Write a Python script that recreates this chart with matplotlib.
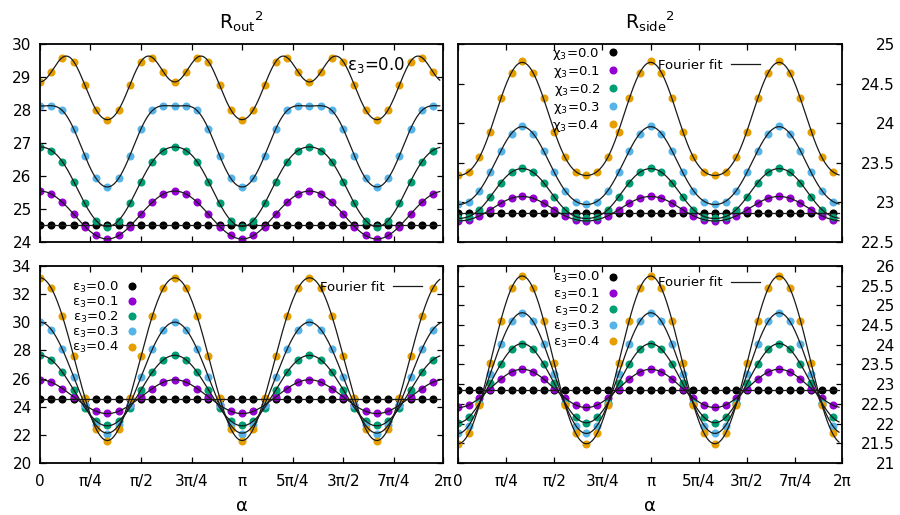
import numpy as np
import matplotlib.pyplot as plt

# 36 sample angles, 0 .. 35*pi/18
alpha = np.arange(36) * np.pi / 18
labels = ['0.0', '0.1', '0.2', '0.3', '0.4']
colors = ['#000000', '#9400d3', '#009e73', '#56b4e9', '#e69f00']

xtick_vals = np.arange(9) * np.pi / 4
xtick_text = ['0', 'π/4', 'π/2', '3π/4', 'π', '5π/4', '3π/2', '7π/4', '2π']

# R_out^2, eps3 = 0.0 (top left), one list per chi3
rout_a_00 = [24.52] * 36
rout_a_01 = [25.54, 25.46, 25.20, 24.85, 24.47, 24.20, 24.09, 24.20, 24.47, 24.85, 25.20, 25.46,
             25.54, 25.46, 25.20, 24.85, 24.47, 24.20, 24.09, 24.20, 24.47, 24.85, 25.20, 25.46,
             25.54, 25.46, 25.20, 24.85, 24.47, 24.20, 24.09, 24.20, 24.47, 24.85, 25.20, 25.46]
rout_a_02 = [26.89, 26.77, 26.44, 25.83, 25.17, 24.65, 24.47, 24.65, 25.17, 25.83, 26.44, 26.77,
             26.89, 26.77, 26.44, 25.83, 25.17, 24.65, 24.47, 24.65, 25.17, 25.83, 26.44, 26.77,
             26.89, 26.77, 26.44, 25.83, 25.17, 24.65, 24.47, 24.65, 25.17, 25.83, 26.44, 26.77]
rout_a_03 = [28.12, 28.13, 27.99, 27.42, 26.62, 25.93, 25.66, 25.93, 26.62, 27.42, 27.99, 28.13,
             28.12, 28.13, 27.99, 27.42, 26.62, 25.93, 25.66, 25.93, 26.62, 27.42, 27.99, 28.13,
             28.12, 28.13, 27.99, 27.42, 26.62, 25.93, 25.66, 25.93, 26.62, 27.42, 27.99, 28.13]
rout_a_04 = [28.84, 29.16, 29.59, 29.47, 28.75, 28.01, 27.70, 28.01, 28.75, 29.47, 29.59, 29.16,
             28.84, 29.16, 29.59, 29.47, 28.75, 28.01, 27.70, 28.01, 28.75, 29.47, 29.59, 29.16,
             28.84, 29.16, 29.59, 29.47, 28.75, 28.01, 27.70, 28.01, 28.75, 29.47, 29.59, 29.16]

# R_side^2, chi3 series (top right)
rside_a_00 = [22.87] * 36
rside_a_01 = [22.77, 22.78, 22.83, 22.91, 22.99, 23.05, 23.08, 23.05, 22.99, 22.91, 22.83, 22.78,
              22.77, 22.78, 22.83, 22.91, 22.99, 23.05, 23.08, 23.05, 22.99, 22.91, 22.83, 22.78,
              22.77, 22.78, 22.83, 22.91, 22.99, 23.05, 23.08, 23.05, 22.99, 22.91, 22.83, 22.78]
rside_a_02 = [22.80, 22.82, 22.91, 23.07, 23.25, 23.38, 23.43, 23.38, 23.25, 23.07, 22.91, 22.82,
              22.80, 22.82, 22.91, 23.07, 23.25, 23.38, 23.43, 23.38, 23.25, 23.07, 22.91, 22.82,
              22.80, 22.82, 22.91, 23.07, 23.25, 23.38, 23.43, 23.38, 23.25, 23.07, 22.91, 22.82]
rside_a_03 = [22.98, 23.01, 23.15, 23.38, 23.65, 23.87, 23.96, 23.87, 23.65, 23.38, 23.15, 23.01,
              22.98, 23.01, 23.15, 23.38, 23.65, 23.87, 23.96, 23.87, 23.65, 23.38, 23.15, 23.01,
              22.98, 23.01, 23.15, 23.38, 23.65, 23.87, 23.96, 23.87, 23.65, 23.38, 23.15, 23.01]
rside_a_04 = [23.35, 23.38, 23.58, 23.89, 24.32, 24.63, 24.78, 24.63, 24.32, 23.89, 23.58, 23.38,
              23.35, 23.38, 23.58, 23.89, 24.32, 24.63, 24.78, 24.63, 24.32, 23.89, 23.58, 23.38,
              23.35, 23.38, 23.58, 23.89, 24.32, 24.63, 24.78, 24.63, 24.32, 23.89, 23.58, 23.38]

# R_out^2, eps3 series (bottom left)
rout_b_00 = [24.56] * 36
rout_b_01 = [25.91, 25.75, 25.28, 24.70, 24.12, 23.66, 23.53, 23.66, 24.12, 24.70, 25.28, 25.75,
             25.91, 25.75, 25.28, 24.70, 24.12, 23.66, 23.53, 23.66, 24.12, 24.70, 25.28, 25.75,
             25.91, 25.75, 25.28, 24.70, 24.12, 23.66, 23.53, 23.66, 24.12, 24.70, 25.28, 25.75]
rout_b_02 = [27.70, 27.30, 26.45, 25.22, 23.92, 22.96, 22.68, 22.96, 23.92, 25.22, 26.45, 27.30,
             27.70, 27.30, 26.45, 25.22, 23.92, 22.96, 22.68, 22.96, 23.92, 25.22, 26.45, 27.30,
             27.70, 27.30, 26.45, 25.22, 23.92, 22.96, 22.68, 22.96, 23.92, 25.22, 26.45, 27.30]
rout_b_03 = [30.01, 29.48, 28.10, 26.10, 24.15, 22.70, 22.08, 22.70, 24.15, 26.10, 28.10, 29.48,
             30.01, 29.48, 28.10, 26.10, 24.15, 22.70, 22.08, 22.70, 24.15, 26.10, 28.10, 29.48,
             30.01, 29.48, 28.10, 26.10, 24.15, 22.70, 22.08, 22.70, 24.15, 26.10, 28.10, 29.48]
rout_b_04 = [33.17, 32.43, 30.44, 27.59, 24.65, 22.44, 21.58, 22.44, 24.65, 27.59, 30.44, 32.43,
             33.17, 32.43, 30.44, 27.59, 24.65, 22.44, 21.58, 22.44, 24.65, 27.59, 30.44, 32.43,
             33.17, 32.43, 30.44, 27.59, 24.65, 22.44, 21.58, 22.44, 24.65, 27.59, 30.44, 32.43]

# R_side^2, eps3 series (bottom right)
rside_b_00 = [22.86] * 36
rside_b_01 = [22.41, 22.47, 22.65, 22.89, 23.13, 23.31, 23.38, 23.31, 23.13, 22.89, 22.65, 22.47,
              22.41, 22.47, 22.65, 22.89, 23.13, 23.31, 23.38, 23.31, 23.13, 22.89, 22.65, 22.47,
              22.41, 22.47, 22.65, 22.89, 23.13, 23.31, 23.38, 23.31, 23.13, 22.89, 22.65, 22.47]
rside_b_02 = [22.02, 22.16, 22.52, 23.02, 23.51, 23.89, 24.03, 23.89, 23.51, 23.02, 22.52, 22.16,
              22.02, 22.16, 22.52, 23.02, 23.51, 23.89, 24.03, 23.89, 23.51, 23.02, 22.52, 22.16,
              22.02, 22.16, 22.52, 23.02, 23.51, 23.89, 24.03, 23.89, 23.51, 23.02, 22.52, 22.16]
rside_b_03 = [21.75, 21.95, 22.50, 23.25, 24.02, 24.60, 24.81, 24.60, 24.02, 23.25, 22.50, 21.95,
              21.75, 21.95, 22.50, 23.25, 24.02, 24.60, 24.81, 24.60, 24.02, 23.25, 22.50, 21.95,
              21.75, 21.95, 22.50, 23.25, 24.02, 24.60, 24.81, 24.60, 24.02, 23.25, 22.50, 21.95]
rside_b_04 = [21.48, 21.76, 22.47, 23.54, 24.61, 25.44, 25.75, 25.44, 24.61, 23.54, 22.47, 21.76,
              21.48, 21.76, 22.47, 23.54, 24.61, 25.44, 25.75, 25.44, 24.61, 23.54, 22.47, 21.76,
              21.48, 21.76, 22.47, 23.54, 24.61, 25.44, 25.75, 25.44, 24.61, 23.54, 22.47, 21.76]


def fourier_fit(x, y, xs, harm=(3, 6, 9)):
    def design(t):
        cols = [np.ones_like(t)]
        for h in harm:
            cols += [np.cos(h * t), np.sin(h * t)]
        return np.column_stack(cols)
    coef, *_ = np.linalg.lstsq(design(x), np.asarray(y), rcond=None)
    return design(xs) @ coef


def panel(ax, series, ylim, yticks, ylabels, right=False, bottom=False):
    # fit curve drawn a little past the last sample, as in the original
    step = alpha[1] - alpha[0]
    grid = np.linspace(0, alpha[-1] + 0.6 * step, 600)
    hs = []
    for y, c in zip(series, colors):
        h, = ax.plot(alpha, y, 'o', color=c, ms=5.8, mec='none', zorder=2)
        hs.append(h)
    for y in series:
        fl, = ax.plot(grid, fourier_fit(alpha, y, grid), color='#1a1a1a', lw=0.9, zorder=3)
    ax.set_xlim(0, 2 * np.pi - 0.02)
    ax.set_ylim(*ylim)
    ax.set_xticks(xtick_vals[:-1].tolist() + [2 * np.pi - 0.02])
    ax.set_yticks(yticks)
    ax.tick_params(direction='in', length=4, width=0.9, top=True, right=True,
                   labelsize=11, colors='black')
    if bottom:
        ax.set_xticklabels(xtick_text)
        ax.tick_params(axis='x', pad=8)
        ax.set_xlabel('α', fontsize=13, labelpad=6)
    else:
        ax.set_xticklabels([])
    ax.set_yticklabels(ylabels)
    if right:
        ax.tick_params(axis='y', labelleft=False, labelright=True, pad=38)
        for t in ax.yaxis.get_major_ticks():
            t.label2.set_horizontalalignment('right')
    else:
        ax.tick_params(axis='y', pad=6)
    for s in ax.spines.values():
        s.set_linewidth(1.3)
    return hs, fl


def legends(ax, hs, fl, sym, anchor_pts, anchor_fit, spacing):
    leg = ax.legend(hs, [sym + '$_3$=' + l for l in labels], loc='upper right',
                    bbox_to_anchor=anchor_pts, frameon=False, markerfirst=False,
                    numpoints=1, handlelength=0.8, handletextpad=0.6, borderpad=0,
                    borderaxespad=0, labelspacing=spacing, fontsize=9.5)
    ax.add_artist(leg)
    ax.legend([fl], ['Fourier fit'], loc='center right', bbox_to_anchor=anchor_fit,
              frameon=False, markerfirst=False, handlelength=2.2, handletextpad=0.6,
              borderpad=0, borderaxespad=0, fontsize=9.5)


fig = plt.figure(figsize=(9, 5.15), dpi=100)
ax_tl = fig.add_axes([0.0444, 0.530, 0.4478, 0.3845])
ax_tr = fig.add_axes([0.5089, 0.530, 0.4267, 0.3845])
ax_bl = fig.add_axes([0.0444, 0.101, 0.4478, 0.3825])
ax_br = fig.add_axes([0.5089, 0.101, 0.4267, 0.3825])

panel(ax_tl, [rout_a_00, rout_a_01, rout_a_02, rout_a_03, rout_a_04], (24, 30),
      [24, 25, 26, 27, 28, 29, 30], ['24', '25', '26', '27', '28', '29', '30'])
ax_tl.text(0.762, 0.894, 'ε$_3$=0.0', transform=ax_tl.transAxes, fontsize=12,
           ha='left', va='center')
ax_tl.set_title('R$_{\\rm out}$$^2$', fontsize=13.5, pad=11)

hs, fl = panel(ax_tr, [rside_a_00, rside_a_01, rside_a_02, rside_a_03, rside_a_04], (22.5, 25),
               [22.5, 23, 23.5, 24, 24.5, 25], ['22.5', '23', '23.5', '24', '24.5', '25'],
               right=True)
legends(ax_tr, hs, fl, 'χ', (0.417, 0.99), (0.786, 0.894), 0.15)
ax_tr.set_title('R$_{\\rm side}$$^2$', fontsize=13.5, pad=11)

hs, fl = panel(ax_bl, [rout_b_00, rout_b_01, rout_b_02, rout_b_03, rout_b_04], (20, 34),
               [20, 22, 24, 26, 28, 30, 32, 34], ['20', '22', '24', '26', '28', '30', '32', '34'],
               bottom=True)
legends(ax_bl, hs, fl, 'ε', (0.241, 0.93), (0.948, 0.893), 0.0)

hs, fl = panel(ax_br, [rside_b_00, rside_b_01, rside_b_02, rside_b_03, rside_b_04], (21, 26),
               [21, 21.5, 22, 22.5, 23, 23.5, 24, 24.5, 25, 25.5, 26],
               ['21', '21.5', '22', '22.5', '23', '23.5', '24', '24.5', '25', '25.5', '26'],
               right=True, bottom=True)
legends(ax_br, hs, fl, 'ε', (0.417, 0.978), (0.786, 0.914), 0.08)

fig.savefig('out.png', dpi=100)
